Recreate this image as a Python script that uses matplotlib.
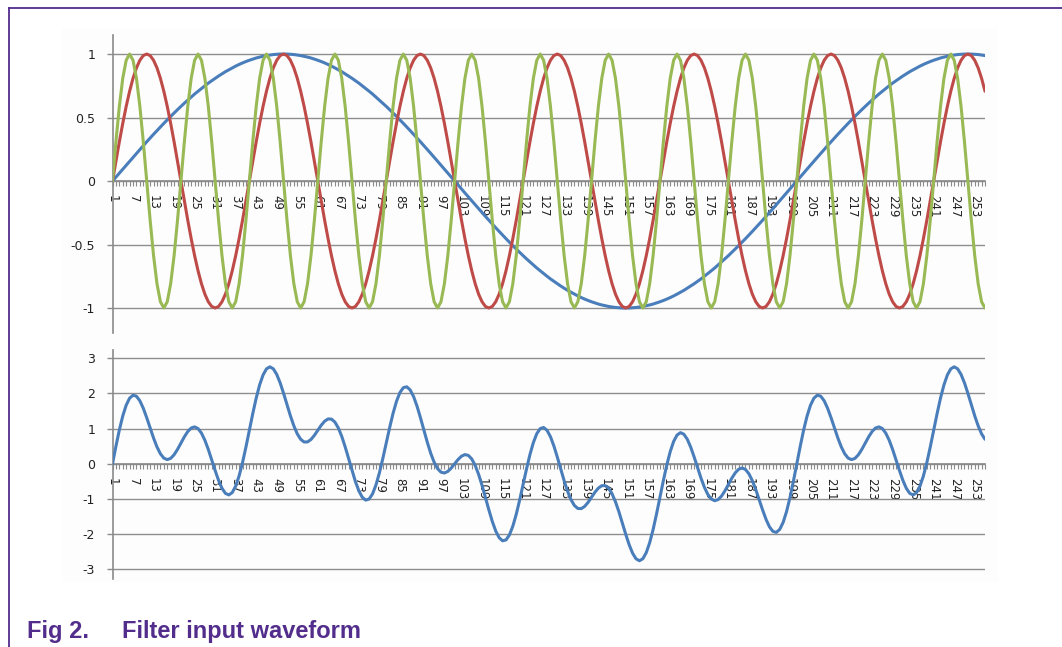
import matplotlib
matplotlib.use("Agg")
import matplotlib.pyplot as plt
from matplotlib.lines import Line2D
from matplotlib.patches import Rectangle
import numpy as np

# ---------------------------------------------------------------- data
# sample index (categories 1..256)
categories = list(range(1, 257))

# slow component
blue_wave = [
    0.000, 0.031, 0.063, 0.094, 0.125, 0.156, 0.187, 0.218, 0.249, 0.279, 0.309, 0.339, 0.368, 0.397, 0.426, 0.454,
    0.482, 0.509, 0.536, 0.562, 0.588, 0.613, 0.637, 0.661, 0.685, 0.707, 0.729, 0.750, 0.771, 0.790, 0.809, 0.827,
    0.844, 0.861, 0.876, 0.891, 0.905, 0.918, 0.930, 0.941, 0.951, 0.960, 0.969, 0.976, 0.982, 0.988, 0.992, 0.996,
    0.998, 1.000, 1.000, 1.000, 0.998, 0.996, 0.992, 0.988, 0.982, 0.976, 0.969, 0.960, 0.951, 0.941, 0.930, 0.918,
    0.905, 0.891, 0.876, 0.861, 0.844, 0.827, 0.809, 0.790, 0.771, 0.750, 0.729, 0.707, 0.685, 0.661, 0.637, 0.613,
    0.588, 0.562, 0.536, 0.509, 0.482, 0.454, 0.426, 0.397, 0.368, 0.339, 0.309, 0.279, 0.249, 0.218, 0.187, 0.156,
    0.125, 0.094, 0.063, 0.031, 0.000, -0.031, -0.063, -0.094, -0.125, -0.156, -0.187, -0.218, -0.249, -0.279, -0.309, -0.339,
    -0.368, -0.397, -0.426, -0.454, -0.482, -0.509, -0.536, -0.562, -0.588, -0.613, -0.637, -0.661, -0.685, -0.707, -0.729, -0.750,
    -0.771, -0.790, -0.809, -0.827, -0.844, -0.861, -0.876, -0.891, -0.905, -0.918, -0.930, -0.941, -0.951, -0.960, -0.969, -0.976,
    -0.982, -0.988, -0.992, -0.996, -0.998, -1.000, -1.000, -1.000, -0.998, -0.996, -0.992, -0.988, -0.982, -0.976, -0.969, -0.960,
    -0.951, -0.941, -0.930, -0.918, -0.905, -0.891, -0.876, -0.861, -0.844, -0.827, -0.809, -0.790, -0.771, -0.750, -0.729, -0.707,
    -0.685, -0.661, -0.637, -0.613, -0.588, -0.562, -0.536, -0.509, -0.482, -0.454, -0.426, -0.397, -0.368, -0.339, -0.309, -0.279,
    -0.249, -0.218, -0.187, -0.156, -0.125, -0.094, -0.063, -0.031, 0.000, 0.031, 0.063, 0.094, 0.125, 0.156, 0.187, 0.218,
    0.249, 0.279, 0.309, 0.339, 0.368, 0.397, 0.426, 0.454, 0.482, 0.509, 0.536, 0.562, 0.588, 0.613, 0.637, 0.661,
    0.685, 0.707, 0.729, 0.750, 0.771, 0.790, 0.809, 0.827, 0.844, 0.861, 0.876, 0.891, 0.905, 0.918, 0.930, 0.941,
    0.951, 0.960, 0.969, 0.976, 0.982, 0.988, 0.992, 0.996, 0.998, 1.000, 1.000, 1.000, 0.998, 0.996, 0.992, 0.988,
]

# medium component
red_wave = [
    0.000, 0.156, 0.309, 0.454, 0.588, 0.707, 0.809, 0.891, 0.951, 0.988, 1.000, 0.988, 0.951, 0.891, 0.809, 0.707, 0.588, 0.454, 0.309, 0.156,
    0.000, -0.156, -0.309, -0.454, -0.588, -0.707, -0.809, -0.891, -0.951, -0.988, -1.000, -0.988, -0.951, -0.891, -0.809, -0.707, -0.588, -0.454, -0.309, -0.156,
    0.000, 0.156, 0.309, 0.454, 0.588, 0.707, 0.809, 0.891, 0.951, 0.988, 1.000, 0.988, 0.951, 0.891, 0.809, 0.707, 0.588, 0.454, 0.309, 0.156,
    0.000, -0.156, -0.309, -0.454, -0.588, -0.707, -0.809, -0.891, -0.951, -0.988, -1.000, -0.988, -0.951, -0.891, -0.809, -0.707, -0.588, -0.454, -0.309, -0.156,
    0.000, 0.156, 0.309, 0.454, 0.588, 0.707, 0.809, 0.891, 0.951, 0.988, 1.000, 0.988, 0.951, 0.891, 0.809, 0.707, 0.588, 0.454, 0.309, 0.156,
    0.000, -0.156, -0.309, -0.454, -0.588, -0.707, -0.809, -0.891, -0.951, -0.988, -1.000, -0.988, -0.951, -0.891, -0.809, -0.707, -0.588, -0.454, -0.309, -0.156,
    0.000, 0.156, 0.309, 0.454, 0.588, 0.707, 0.809, 0.891, 0.951, 0.988, 1.000, 0.988, 0.951, 0.891, 0.809, 0.707, 0.588, 0.454, 0.309, 0.156,
    0.000, -0.156, -0.309, -0.454, -0.588, -0.707, -0.809, -0.891, -0.951, -0.988, -1.000, -0.988, -0.951, -0.891, -0.809, -0.707, -0.588, -0.454, -0.309, -0.156,
    0.000, 0.156, 0.309, 0.454, 0.588, 0.707, 0.809, 0.891, 0.951, 0.988, 1.000, 0.988, 0.951, 0.891, 0.809, 0.707, 0.588, 0.454, 0.309, 0.156,
    0.000, -0.156, -0.309, -0.454, -0.588, -0.707, -0.809, -0.891, -0.951, -0.988, -1.000, -0.988, -0.951, -0.891, -0.809, -0.707, -0.588, -0.454, -0.309, -0.156,
    0.000, 0.156, 0.309, 0.454, 0.588, 0.707, 0.809, 0.891, 0.951, 0.988, 1.000, 0.988, 0.951, 0.891, 0.809, 0.707, 0.588, 0.454, 0.309, 0.156,
    0.000, -0.156, -0.309, -0.454, -0.588, -0.707, -0.809, -0.891, -0.951, -0.988, -1.000, -0.988, -0.951, -0.891, -0.809, -0.707, -0.588, -0.454, -0.309, -0.156,
    0.000, 0.156, 0.309, 0.454, 0.588, 0.707, 0.809, 0.891, 0.951, 0.988, 1.000, 0.988, 0.951, 0.891, 0.809, 0.707,
]

# fast component
green_wave = [
    0.000, 0.309, 0.588, 0.809, 0.951, 1.000, 0.951, 0.809, 0.588, 0.309, 0.000, -0.309, -0.588, -0.809, -0.951, -1.000, -0.951, -0.809, -0.588, -0.309,
    0.000, 0.309, 0.588, 0.809, 0.951, 1.000, 0.951, 0.809, 0.588, 0.309, 0.000, -0.309, -0.588, -0.809, -0.951, -1.000, -0.951, -0.809, -0.588, -0.309,
    0.000, 0.309, 0.588, 0.809, 0.951, 1.000, 0.951, 0.809, 0.588, 0.309, 0.000, -0.309, -0.588, -0.809, -0.951, -1.000, -0.951, -0.809, -0.588, -0.309,
    0.000, 0.309, 0.588, 0.809, 0.951, 1.000, 0.951, 0.809, 0.588, 0.309, 0.000, -0.309, -0.588, -0.809, -0.951, -1.000, -0.951, -0.809, -0.588, -0.309,
    0.000, 0.309, 0.588, 0.809, 0.951, 1.000, 0.951, 0.809, 0.588, 0.309, 0.000, -0.309, -0.588, -0.809, -0.951, -1.000, -0.951, -0.809, -0.588, -0.309,
    0.000, 0.309, 0.588, 0.809, 0.951, 1.000, 0.951, 0.809, 0.588, 0.309, 0.000, -0.309, -0.588, -0.809, -0.951, -1.000, -0.951, -0.809, -0.588, -0.309,
    0.000, 0.309, 0.588, 0.809, 0.951, 1.000, 0.951, 0.809, 0.588, 0.309, 0.000, -0.309, -0.588, -0.809, -0.951, -1.000, -0.951, -0.809, -0.588, -0.309,
    0.000, 0.309, 0.588, 0.809, 0.951, 1.000, 0.951, 0.809, 0.588, 0.309, 0.000, -0.309, -0.588, -0.809, -0.951, -1.000, -0.951, -0.809, -0.588, -0.309,
    0.000, 0.309, 0.588, 0.809, 0.951, 1.000, 0.951, 0.809, 0.588, 0.309, 0.000, -0.309, -0.588, -0.809, -0.951, -1.000, -0.951, -0.809, -0.588, -0.309,
    0.000, 0.309, 0.588, 0.809, 0.951, 1.000, 0.951, 0.809, 0.588, 0.309, 0.000, -0.309, -0.588, -0.809, -0.951, -1.000, -0.951, -0.809, -0.588, -0.309,
    0.000, 0.309, 0.588, 0.809, 0.951, 1.000, 0.951, 0.809, 0.588, 0.309, 0.000, -0.309, -0.588, -0.809, -0.951, -1.000, -0.951, -0.809, -0.588, -0.309,
    0.000, 0.309, 0.588, 0.809, 0.951, 1.000, 0.951, 0.809, 0.588, 0.309, 0.000, -0.309, -0.588, -0.809, -0.951, -1.000, -0.951, -0.809, -0.588, -0.309,
    0.000, 0.309, 0.588, 0.809, 0.951, 1.000, 0.951, 0.809, 0.588, 0.309, 0.000, -0.309, -0.588, -0.809, -0.951, -1.000,
]

# axis labels
x_tick_labels = [str(c) for c in categories[::6]]
top_y_ticks = [1, 0.5, 0, -0.5, -1]
top_y_labels = ["1", "0.5", "0", "-0.5", "-1"]
bottom_y_ticks = [3, 2, 1, 0, -1, -2, -3]
bottom_y_labels = ["3", "2", "1", "0", "-1", "-2", "-3"]
caption_number = "Fig 2."
caption_title = "Filter input waveform"

# the filter input is the sum of the three components
combined_wave = np.array(blue_wave) + np.array(red_wave) + np.array(green_wave)

# ---------------------------------------------------------------- style
BLUE = "#4A7EBB"
RED = "#BE4B48"
GREEN = "#98B954"
AXIS = "#8A8A8A"
GRID = "#8E8E8E"
TEXT = "#222222"
PURPLE = "#532D8C"

W, H = 1062, 647
fig = plt.figure(figsize=(W / 100, H / 100), dpi=100)
fig.patch.set_facecolor("white")


def px_rect(left, top, right, bottom):
    return [left / W, 1 - bottom / H, (right - left) / W, (bottom - top) / H]


# faint chart-area backdrop, kept beneath the axes
fig.patches.append(Rectangle((62 / W, 1 - 582 / H), (998 - 62) / W, (582 - 28) / H,
                             transform=fig.transFigure, facecolor="#FDFDFD",
                             edgecolor="none", zorder=-10))

ax_top = fig.add_axes(px_rect(112.5, 35, 985, 333))
ax_bot = fig.add_axes(px_rect(112.5, 350, 985, 579))


def style_axes(ax, ylim, yticks, ylabels):
    ax.set_facecolor("none")
    ax.set_xlim(categories[0], categories[-1])
    ax.set_ylim(*ylim)
    for side in ("top", "right"):
        ax.spines[side].set_visible(False)
    ax.spines["bottom"].set_position(("data", 0))
    for side in ("left", "bottom"):
        ax.spines[side].set_color(AXIS)
        ax.spines[side].set_linewidth(1.2)
    ax.set_yticks(yticks, ylabels)
    ax.yaxis.grid(True, color=GRID, linewidth=1.0)
    ax.set_axisbelow(True)
    ax.tick_params(axis="y", direction="out", length=4.5, width=1.0, color=AXIS,
                   pad=8, labelsize=9, labelcolor=TEXT)
    ax.set_xticks(categories[::6], x_tick_labels)
    ax.set_xticks(categories, minor=True)
    ax.tick_params(axis="x", which="both", direction="out", length=3.8, width=0.8,
                   color=AXIS)
    ax.tick_params(axis="x", which="major", pad=6.5, labelsize=8.5,
                   labelcolor=TEXT, labelrotation=-90)


style_axes(ax_top, (-1.197, 1.15), top_y_ticks, top_y_labels)
style_axes(ax_bot, (-3.27, 3.23), bottom_y_ticks, bottom_y_labels)

ax_top.plot(categories, blue_wave, color=BLUE, lw=2.2, solid_capstyle="round", zorder=3)
ax_top.plot(categories, red_wave, color=RED, lw=2.2, solid_capstyle="round", zorder=4)
ax_top.plot(categories, green_wave, color=GREEN, lw=2.2, solid_capstyle="round", zorder=5)
ax_bot.plot(categories, combined_wave, color=BLUE, lw=2.2, solid_capstyle="round", zorder=3)

# page frame rules
fig.add_artist(Line2D([9 / W, 1.0], [1 - 8 / H, 1 - 8 / H], color=PURPLE, lw=1.3))
fig.add_artist(Line2D([9 / W, 9 / W], [0.0, 1 - 8 / H], color=PURPLE, lw=1.3))

# caption
cap_kw = dict(fontfamily="Liberation Sans", fontweight="bold", fontsize=17,
              color=PURPLE, va="baseline", ha="left")
fig.text(27 / W, 1 - 638 / H, caption_number, **cap_kw)
fig.text(122 / W, 1 - 638 / H, caption_title, **cap_kw)

fig.savefig("out.png", dpi=100)
